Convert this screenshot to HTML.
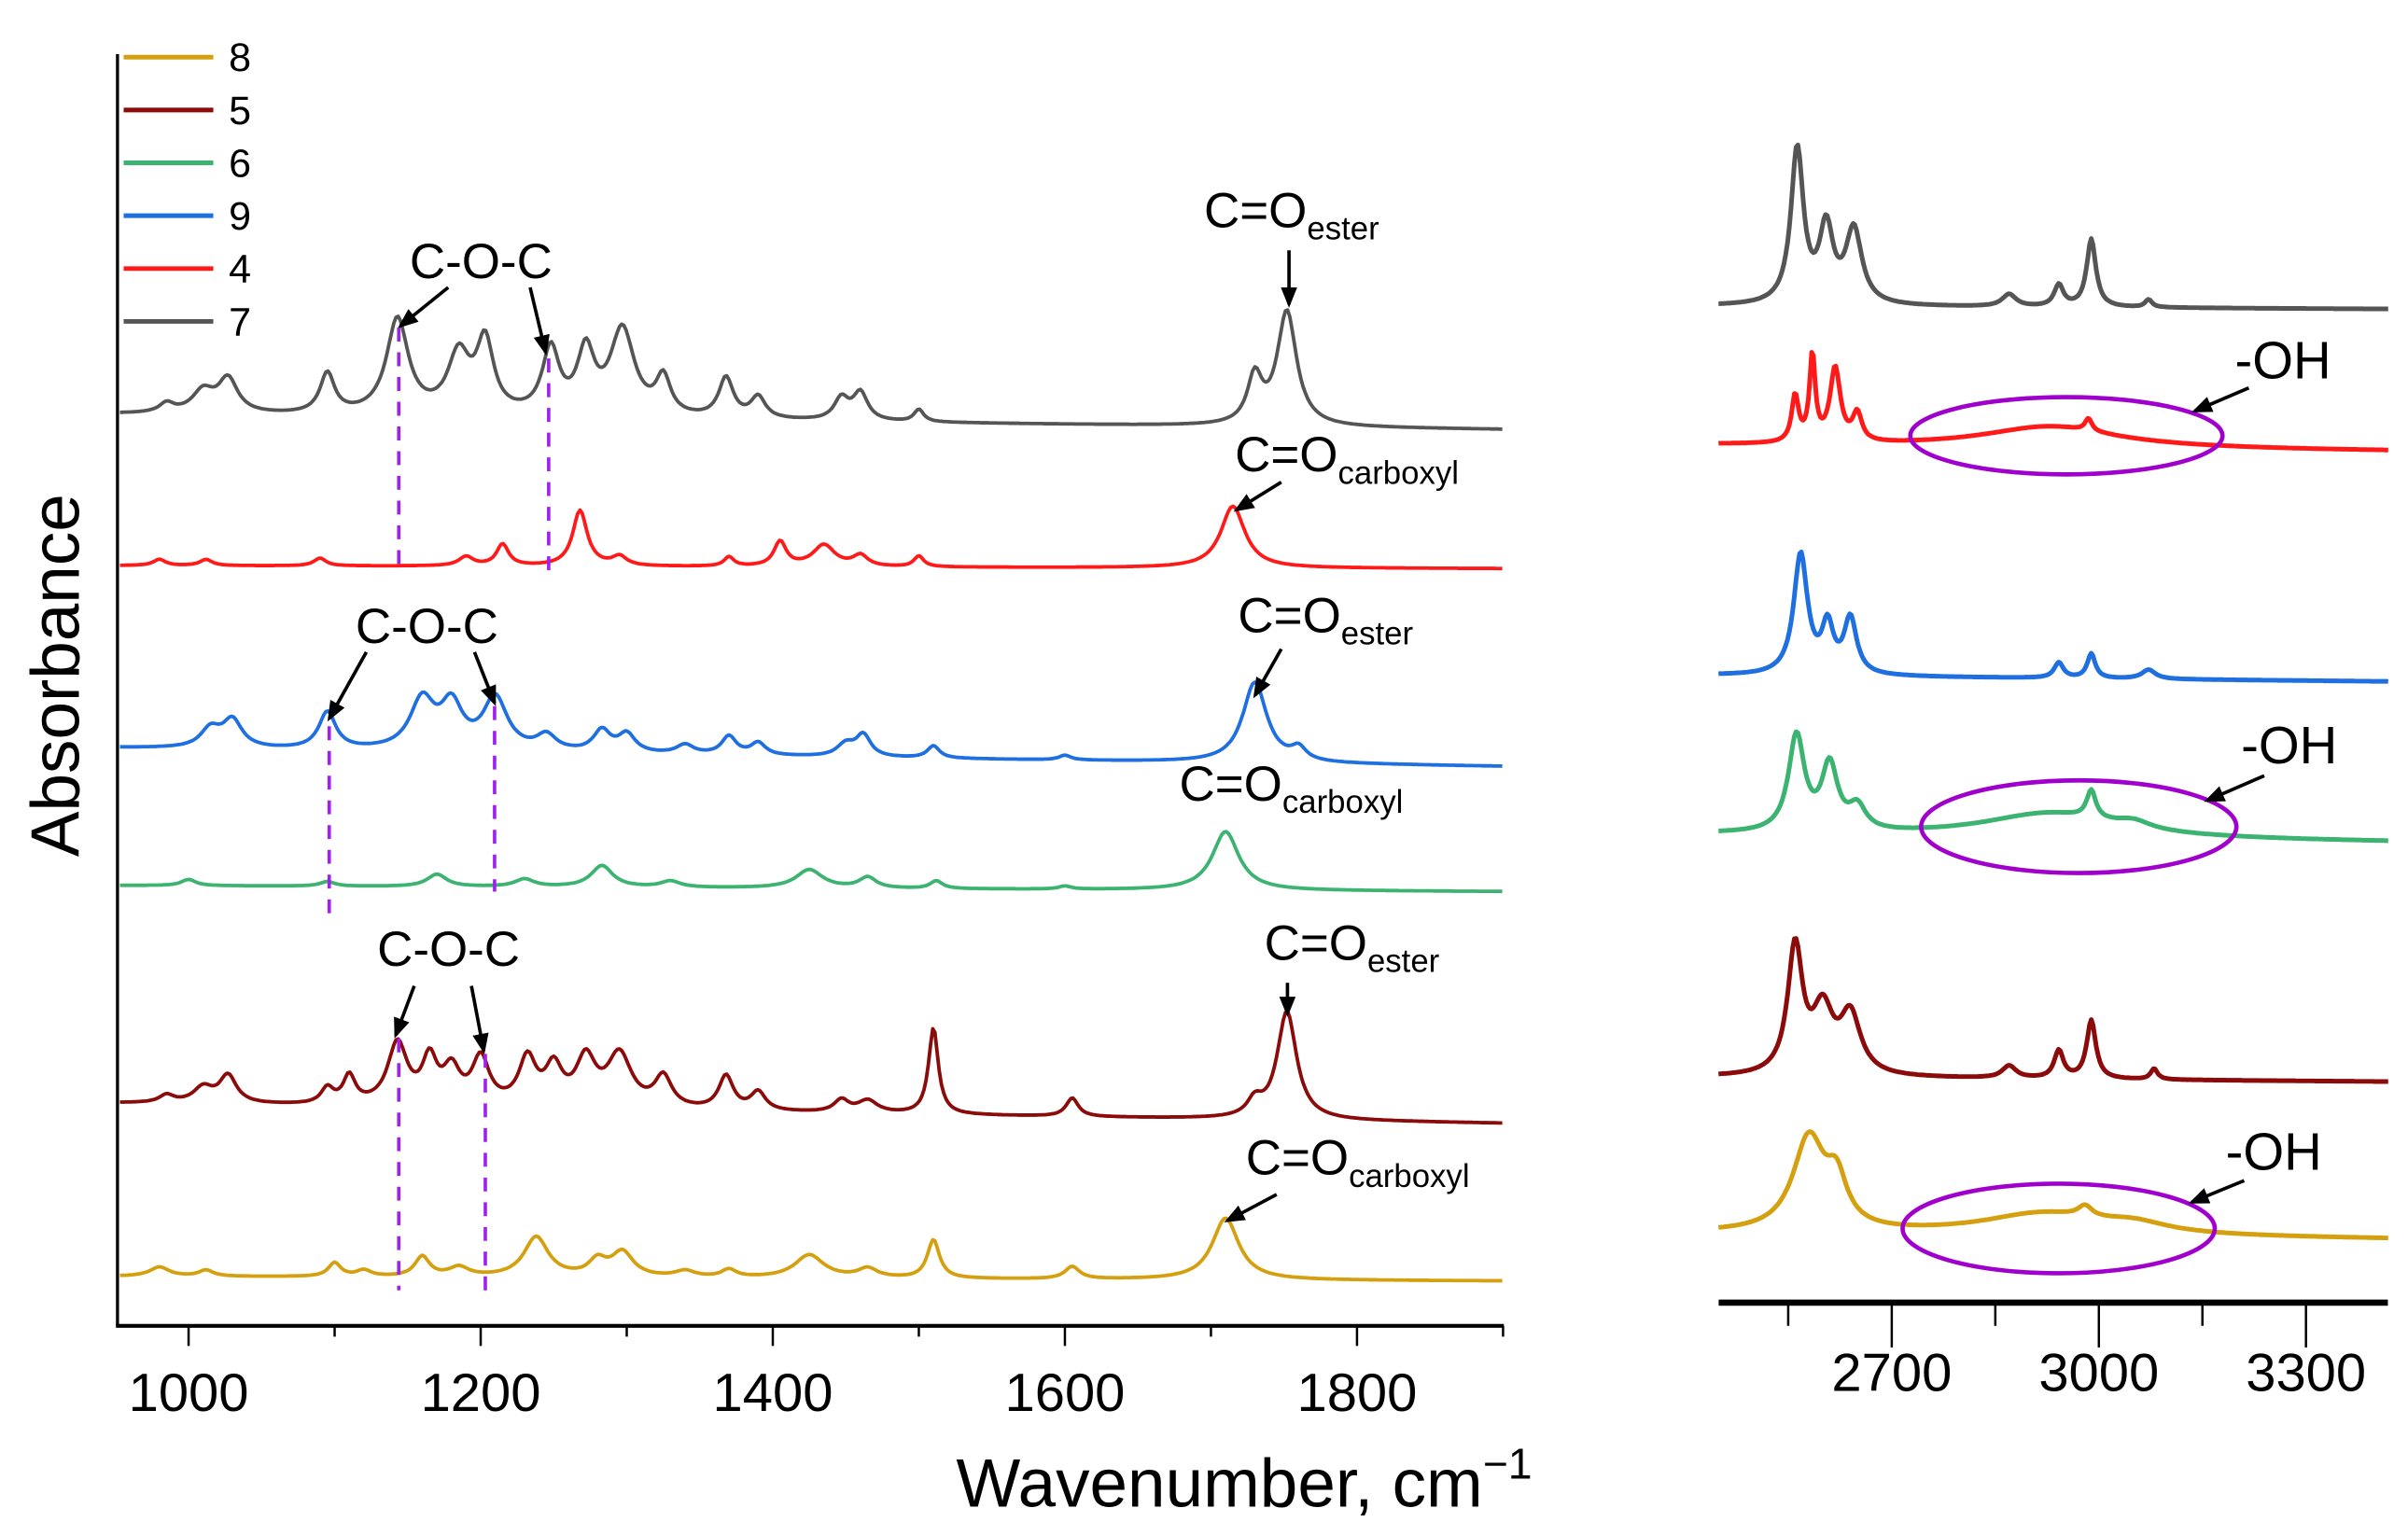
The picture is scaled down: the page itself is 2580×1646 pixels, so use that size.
<!DOCTYPE html>
<html><head><meta charset="utf-8"><style>
html,body{margin:0;padding:0;background:#fff;}
svg{display:block;font-family:"Liberation Sans",sans-serif;}
</style></head><body>
<svg id="chart" width="2580" height="1646" viewBox="0 0 1558 994" xmlns="http://www.w3.org/2000/svg">
<defs><marker id="ah" markerWidth="6" markerHeight="6" refX="5" refY="3" orient="auto" markerUnits="strokeWidth"><path d="M0,0.6 L6,3 L0,5.4 Z" fill="#000"/></marker></defs>
<g id="left"></g>
<g id="right"></g>
<g id="ann"></g>
</svg>
<script>
// x-axis ticks
const leftTicks = [1000, 1200, 1400, 1600, 1800];
const leftMinor = [1100, 1300, 1500, 1700, 1900];
const rightTicks = [2700, 3000, 3300];
const rightMinor = [2550, 2850, 3150];
// series names & colors
const seriesNames = ["8", "5", "6", "9", "4", "7"];
const seriesColors = ["#d4a00f", "#8b0a0a", "#3cb371", "#1f6fe0", "#ff1a1a", "#555555"];
// left panel: baselines (left end, right end), peaks [center, height, width]
const leftBase = [[826, 829], [714, 727], [573, 577], [484, 496], [366, 368], [268, 278]];
const leftPeaks8 = [[980,6,8],[1012,4,6],[1100,9,5],[1120,4,6],[1160,13,6],[1185,6,8],[1238,26,10],[1280,10,7],[1297,16,9],[1340,4,8],[1370,5,6],[1425,15,12],[1465,6,8],[1510,25,5],[1605,8,6],[1710,40,11]];
const leftPeaks5 = [[985,5,6],[1010,10,8],[1027,18,7],[1095,10,5],[1110,18,5],[1143,40,8],[1165,28,6],[1180,22,7],[1200,30,7],[1232,30,7],[1250,24,7],[1272,30,8],[1295,34,10],[1325,20,7],[1368,22,6],[1390,12,6],[1447,8,6],[1465,8,8],[1510,56,4],[1605,12,5],[1730,10,6],[1752,70,8]];
const leftPeaks6 = [[1000,4,6],[1095,3,6],[1170,8,8],[1230,5,8],[1283,14,9],[1330,4,8],[1425,12,11],[1465,7,7],[1512,5,5],[1600,2,5],[1710,38,11]];
const leftPeaks9 = [[1015,12,8],[1030,18,8],[1095,24,7],[1160,32,10],[1180,28,9],[1210,34,10],[1245,10,8],[1283,14,7],[1300,12,7],[1340,6,7],[1370,12,6],[1390,8,6],[1450,8,7],[1462,14,6],[1510,8,5],[1600,3,5],[1730,52,10],[1760,8,6]];
const leftPeaks4 = [[980,4,5],[1012,4,5],[1090,5,5],[1190,6,6],[1215,14,5],[1268,36,6],[1295,6,6],[1370,6,4],[1405,16,5],[1435,14,9],[1460,7,6],[1500,7,4],[1715,40,10]];
const leftPeaks7 = [[985,6,6],[1010,14,9],[1027,22,8],[1095,26,6],[1143,62,9],[1185,38,9],[1203,46,7],[1248,42,7],[1272,40,7],[1297,56,10],[1325,24,6],[1368,26,6],[1390,14,6],[1447,14,6],[1460,18,6],[1500,8,4],[1730,30,6],[1752,74,8]];
const leftPeaks = [leftPeaks8, leftPeaks5, leftPeaks6, leftPeaks9, leftPeaks4, leftPeaks7];
// right panel
const rightBase = [[798, 802], [697, 700], [540, 545], [437, 441], [288, 292], [198, 200]];
const rightPeaks8 = [[2580,60,28],[2620,28,18],[2920,14,110],[2980,7,12],[3050,6,60]];
const rightPeaks5 = [[2560,82,13],[2600,40,18],[2640,38,18],[2870,8,12],[2942,18,8],[2989,38,8],[3080,7,6]];
const rightPeaks6 = [[2562,62,14],[2610,42,14],[2650,15,15],[2930,16,120],[2989,18,8],[3050,5,30]];
const rightPeaks9 = [[2568,78,12],[2607,30,10],[2640,36,11],[2942,10,8],[2989,16,7],[3072,6,12]];
const rightPeaks4 = [[2560,30,6],[2585,56,5],[2618,48,9],[2650,18,8],[2930,14,120],[2985,8,6]];
const rightPeaks7 = [[2563,100,11],[2605,48,12],[2645,48,14],[2870,8,12],[2942,14,8],[2989,44,8],[3072,5,6]];
const rightPeaks = [rightPeaks8, rightPeaks5, rightPeaks6, rightPeaks9, rightPeaks4, rightPeaks7];

const NS = "http://www.w3.org/2000/svg";
function mk(tag, attrs, parent){ const e=document.createElementNS(NS,tag); for(const k in attrs) e.setAttribute(k,attrs[k]); parent.appendChild(e); return e; }
const xL = v => 122 + (v-1000)*189/200;
const xR = v => 1224 + (v-2700)*134/300;
function spec(v, base, v0, v1, peaks){
  let y = base[0] + (base[1]-base[0])*(v-v0)/(v1-v0);
  for(const p of peaks){ const d=(v-p[0])/p[2]; y -= p[1]/(1+d*d); }
  return y;
}
const L = document.getElementById('left'), R = document.getElementById('right'), A = document.getElementById('ann');

let e;
e = mk('line',{x1:76,y1:35,x2:76,y2:858,stroke:'#000','stroke-width':2},L);
 
e = mk('line',{x1:75,y1:858,x2:973,y2:858,stroke:'#000','stroke-width':2.5},L);
 
leftTicks.forEach(t=>{
  const l=mk('line',{x1:xL(t),y1:858,x2:xL(t),y2:871,stroke:'#000','stroke-width':1.5},L);
   
  const tx=mk('text',{x:xL(t),y:913,'font-size':35,'text-anchor':'middle'},L); tx.textContent=t;
   
});
leftMinor.forEach(t=>{
  const l=mk('line',{x1:xL(t),y1:858,x2:xL(t),y2:865,stroke:'#000','stroke-width':1.5},L);
   
});
e=mk('text',{x:805,y:975,'font-size':44,'text-anchor':'middle'},L);
e.innerHTML='Wavenumber, cm<tspan dy="-18" font-size="28">−1</tspan>';
 
e=mk('text',{x:51,y:437,'font-size':44,'text-anchor':'middle',transform:'rotate(-90 51 437)'},L);
e.textContent='Absorbance';
 

seriesNames.forEach((n,i)=>{
  let d='';
  for(let v=953; v<=1900; v+=1.5){ d += (d?'L':'M')+xL(v).toFixed(1)+','+spec(v,leftBase[i],953,1900,leftPeaks[i]).toFixed(1); }
  const p=mk('path',{d:d,fill:'none',stroke:seriesColors[i],'stroke-width':2.3,'stroke-linejoin':'round'},L);
   
  const ly=37+i*34.2;
  const ll=mk('line',{x1:80,y1:ly,x2:138,y2:ly,stroke:seriesColors[i],'stroke-width':3},L);
   
  const lt=mk('text',{x:148,y:ly+9,'font-size':26},L); lt.textContent=n;
   
});

e=mk('line',{x1:1112,y1:843,x2:1545,y2:843,stroke:'#000','stroke-width':4},R);
 
rightTicks.forEach(t=>{
  const l=mk('line',{x1:xR(t),y1:843,x2:xR(t),y2:872,stroke:'#000','stroke-width':1.5},R);
   
  const tx=mk('text',{x:xR(t),y:900,'font-size':35,'text-anchor':'middle'},R); tx.textContent=t;
   
});
rightMinor.forEach(t=>{
  const l=mk('line',{x1:xR(t),y1:843,x2:xR(t),y2:858,stroke:'#000','stroke-width':1.5},R);
   
});
seriesNames.forEach((n,i)=>{
  let d='';
  for(let v=2449; v<=3419; v+=2.5){ d += (d?'L':'M')+xR(v).toFixed(1)+','+spec(v,rightBase[i],2449,3419,rightPeaks[i]).toFixed(1); }
  const p=mk('path',{d:d,fill:'none',stroke:seriesColors[i],'stroke-width':3,'stroke-linejoin':'round'},R);
   
});

function arrow(x1,y1,x2,y2){ const a=mk('line',{x1:x1,y1:y1,x2:x2,y2:y2,stroke:'#000','stroke-width':2.2,'marker-end':'url(#ah)'},A);
    }
function dash(x,y1,y2){ const a=mk('line',{x1:x,y1:y1,x2:x,y2:y2,stroke:'#a020f0','stroke-width':2.2,'stroke-dasharray':'9,7'},A);
    }
function label(x,y,main,sub,name){ const t=mk('text',{x:x,y:y,'font-size':32},A);
  t.innerHTML=main+(sub?'<tspan dy="8" font-size="21">'+sub+'</tspan>':'');
    }
label(265,180,'C-O-C','','coc-label-7'); arrow(290,186,259,211); arrow(343,186,353,228);
label(779,147,'C=O','ester','ester-label-7'); arrow(834,162,834,197);
label(799,305,'C=O','carboxyl','carboxyl-label-4'); arrow(829,312,800,330);
label(230,416,'C-O-C','','coc-label-9'); arrow(237,422,213,465); arrow(307,422,320,455);
label(801,409,'C=O','ester','ester-label-9'); arrow(829,420,812,450);
label(763,518,'C=O','carboxyl','carboxyl-label-6');
label(244,625,'C-O-C','','coc-label-5'); arrow(268,638,256,670); arrow(305,638,313,680);
label(818,621,'C=O','ester','ester-label-5'); arrow(833,636,833,656);
label(806,760,'C=O','carboxyl','carboxyl-label-8'); arrow(826,773,794,790);
dash(258,212,370); dash(355,232,375); dash(213,470,595); dash(320,457,577); dash(258,672,835); dash(314,682,840);
[[1337,282,101,25],[1345,535,102,30],[1332,795,101,29]].forEach(c=>{
  const el=mk('ellipse',{cx:c[0],cy:c[1],rx:c[2],ry:c[3],fill:'none',stroke:'#a000cc','stroke-width':2.8},A);
   
});
[[1446,245],[1450,494],[1440,757]].forEach((p,i)=>{
  const t=mk('text',{x:p[0],y:p[1],'font-size':34},A); t.textContent='-OH';
   
});
arrow(1455,251,1420,266); arrow(1465,502,1428,518); arrow(1452,764,1418,778);
</script>
</body></html>
